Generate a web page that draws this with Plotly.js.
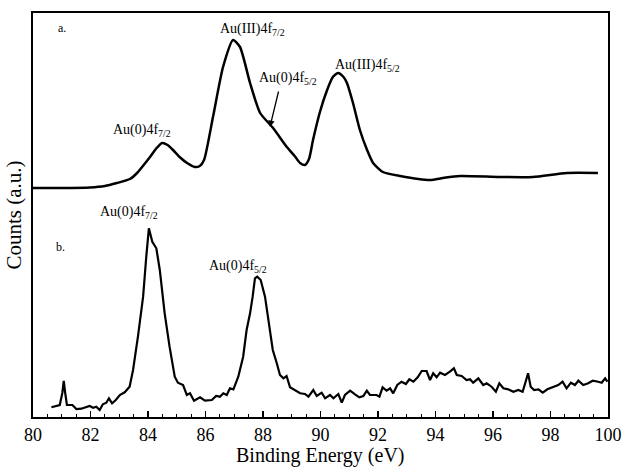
<!DOCTYPE html>
<html>
<head>
<meta charset="utf-8">
<script src="https://cdn.plot.ly/plotly-3.0.1.min.js"></script>
<style>html,body{margin:0;padding:0;background:#fff;}#chart{width:625px;height:468px;}</style>
</head>
<body>
<div id="chart"></div>
<script>
// Spectrum a (Binding energy in eV, counts in a.u.)
var energyA = [80.00, 80.94, 81.98, 82.50, 82.92, 83.37, 83.62, 83.85, 84.07, 84.30, 84.49, 84.68, 84.87, 85.10, 85.36, 85.63, 85.80, 85.95,
  86.26, 86.61, 86.96, 87.20, 87.55, 87.90, 88.35, 88.83, 89.10, 89.29, 89.46, 89.60, 89.74, 89.98,
  90.23, 90.43, 90.61, 90.80, 90.92, 91.13, 91.37, 91.62, 91.83, 92.17, 92.77, 93.81, 94.26, 94.85,
  96.24, 97.39, 98.57, 99.65];
var countsA = [229, 229, 229.5, 231, 234, 238, 244, 252, 260, 269, 274, 272, 267, 260, 254, 250, 251, 257,
  300, 350, 377, 370, 334, 304, 289, 270, 261, 254, 252, 258, 277, 305,
  327, 340, 344, 340, 334, 314, 287, 267, 254, 245, 241, 237, 239, 241,
  240, 240, 244, 244];

// Spectrum b
var energyB = [80.64, 80.93, 81.02, 81.07, 81.12, 81.18, 81.37, 81.51, 81.68, 81.85, 81.97, 82.09,
  82.20, 82.32, 82.43, 82.55, 82.64, 82.75, 82.88, 83.02, 83.19, 83.36, 83.48, 83.65, 83.83,
  83.94, 84.03, 84.15, 84.29, 84.41, 84.58, 84.75, 84.93, 85.04, 85.22, 85.35, 85.46, 85.60,
  85.81, 85.98, 86.22, 86.37, 86.50, 86.62, 86.74, 86.85, 86.97, 87.14, 87.31, 87.43, 87.55,
  87.64, 87.72, 87.80, 87.92, 88.07, 88.22, 88.34, 88.48, 88.59, 88.71, 88.82, 88.94, 89.11,
  89.29, 89.46, 89.58, 89.75, 89.87, 90.04, 90.16, 90.33, 90.45, 90.62, 90.74, 90.85, 91.03,
  91.20, 91.35, 91.49, 91.61, 91.72, 91.95, 92.05, 92.16, 92.30, 92.42, 92.53, 92.67, 92.82,
  92.97, 93.09, 93.23, 93.38, 93.52, 93.69, 93.81, 93.92, 94.04, 94.16, 94.33, 94.50, 94.64,
  94.74, 94.91, 95.08, 95.20, 95.31, 95.49, 95.66, 95.78, 95.95, 96.10, 96.22, 96.36, 96.53,
  96.71, 96.88, 97.03, 97.12, 97.22, 97.31, 97.43, 97.58, 97.73, 97.89, 98.10, 98.27, 98.42,
  98.56, 98.71, 98.85, 98.97, 99.14, 99.31, 99.47, 99.66, 99.78, 99.90, 99.98];
var countsB = [9.7, 12, 24, 36, 24, 12, 12, 8, 8.3, 10.3, 11, 9.3,
  10.3, 7, 12.7, 14.3, 18.7, 13.7, 17, 22, 24.7, 30.3, 47, 80.3, 120.3,
  160.3, 188.7, 175.3, 168.7, 147, 103.7, 70.3, 40.3, 34.3, 32, 22, 23.7, 16.3,
  19.7, 16.3, 17, 21, 20.3, 23.7, 22, 28.7, 27.7, 40.3, 60.3, 87, 103.7,
  120.3, 138.7, 140.3, 137, 120.3, 90.3, 67, 53.7, 42, 38.7, 41, 29.7, 27,
  23.7, 23, 20.3, 27, 21, 24.3, 18.7, 22, 18.7, 23, 14.3, 22, 26.3,
  22.7, 19.7, 21, 26.3, 22, 22, 20.3, 29.7, 26.3, 28.7, 23.7, 32, 35.3,
  33, 37.7, 35.3, 39.7, 46, 46, 37, 43.7, 39.7, 44.3, 42, 45.3, 48.7,
  42, 41, 37, 37.7, 34.3, 38.7, 32, 33.7, 30.3, 25.3, 33.7, 28.7, 27.7,
  25.3, 27, 25.3, 33.7, 43.7, 30.3, 27, 27.7, 24.3, 27.7, 30.3, 32, 35.3,
  28.7, 34.3, 32, 36.3, 32, 33.7, 36.3, 35.3, 34.3, 38.7, 35.3];

var tickVals = [80, 82, 84, 86, 88, 90, 92, 94, 96, 98, 100];
var tickText = ['80', '82', '84', '86', '88', '90', '92', '94', '96', '98', '100'];
var xTitle = 'Binding Energy (eV)';
var yTitle = 'Counts (a.u.)';

var serif = 'Liberation Serif, Times New Roman, serif';

var traces = [
  {x: energyA, y: countsA, type: 'scatter', mode: 'lines',
   line: {color: '#000', width: 2.5, shape: 'spline', smoothing: 0.6}, hoverinfo: 'skip'},
  {x: energyB, y: countsB, type: 'scatter', mode: 'lines',
   line: {color: '#000', width: 2.2}, hoverinfo: 'skip'}
];

var lblFont = {family: serif, size: 14, color: '#000'};
var annotations = [
  {x: 81.01, y: 389, text: 'a.', showarrow: false, font: {family: serif, size: 12, color: '#000'}},
  {x: 80.97, y: 170, text: 'b.', showarrow: false, font: {family: serif, size: 12, color: '#000'}},
  {x: 87.65, y: 388, text: 'Au(III)4f<sub>7/2</sub>', showarrow: false, font: lblFont},
  {x: 88.87, y: 339, text: 'Au(0)4f<sub>5/2</sub>', showarrow: false, font: lblFont},
  {x: 83.79, y: 287, text: 'Au(0)4f<sub>7/2</sub>', showarrow: false, font: lblFont},
  {x: 91.65, y: 352, text: 'Au(III)4f<sub>5/2</sub>', showarrow: false, font: lblFont},
  {x: 83.34, y: 205, text: 'Au(0)4f<sub>7/2</sub>', showarrow: false, font: lblFont},
  {x: 87.13, y: 151, text: 'Au(0)4f<sub>5/2</sub>', showarrow: false, font: lblFont},
  {x: 88.24, y: 290, text: '', showarrow: true, ax: 9, ay: -37, arrowhead: 2, arrowsize: 1,
   arrowwidth: 1.3, arrowcolor: '#000', standoff: 0},
  {xref: 'paper', yref: 'paper', x: 0.5, y: -0.1262, xanchor: 'center', yanchor: 'bottom',
   borderpad: 0, text: xTitle, showarrow: false, font: {family: serif, size: 20, color: '#000'}}
];

var layout = {
  width: 625, height: 468,
  margin: {l: 33, r: 17, t: 13, b: 51, pad: 0},
  paper_bgcolor: '#fff', plot_bgcolor: '#fff',
  showlegend: false,
  xaxis: {
    range: [80, 100], tickvals: tickVals, ticktext: tickText,
    ticks: 'inside', ticklen: 6, tickwidth: 1.2, tickcolor: '#000',
    minor: {dtick: 0.5, ticks: 'inside', ticklen: 3, tickwidth: 1, tickcolor: '#000'},
    showline: true, linecolor: '#000', linewidth: 2, mirror: true,
    showgrid: false, zeroline: false,
    tickfont: {family: serif, size: 18, color: '#000'}
  },
  yaxis: {
    range: [0, 404], showticklabels: false, ticks: '',
    showline: true, linecolor: '#000', linewidth: 2, mirror: true,
    showgrid: false, zeroline: false,
    title: {text: yTitle, font: {family: serif, size: 21, color: '#000'}, standoff: 4}
  },
  annotations: annotations
};

Plotly.newPlot('chart', traces, layout, {displayModeBar: false, staticPlot: true});
</script>
</body>
</html>
